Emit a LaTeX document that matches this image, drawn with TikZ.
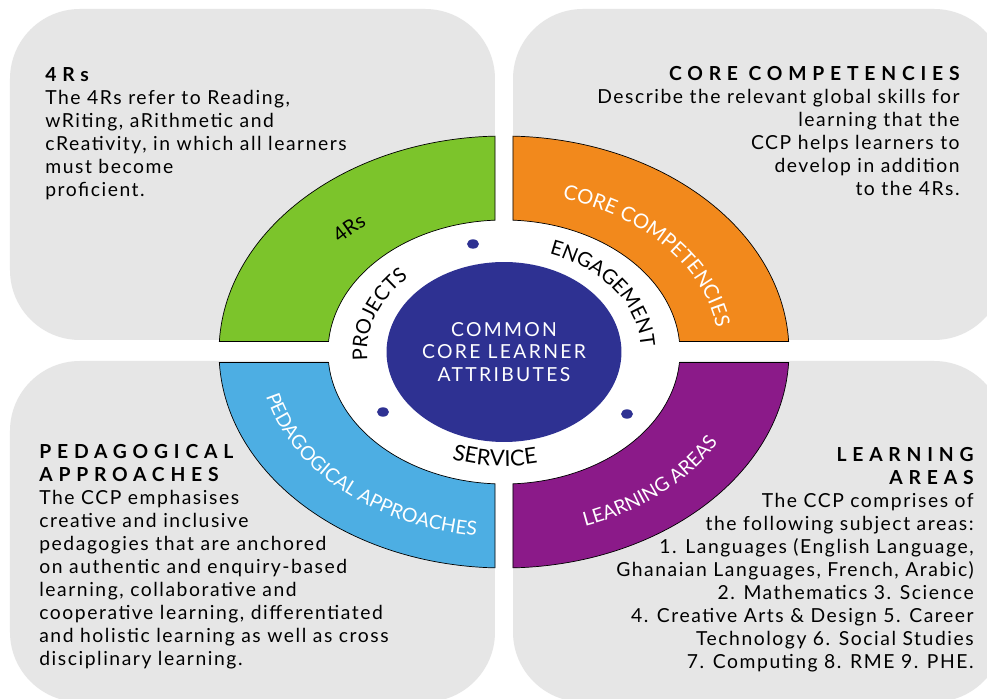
\documentclass[tikz,border=0pt]{standalone}
\usepackage{fontspec}
\setmainfont{Lato}
\newfontfamily\headfont[LetterSpace=30]{Lato}
\usepackage{tikz}
\usetikzlibrary{shapes.geometric}
\usetikzlibrary{decorations.text}

\definecolor{boxgray}{HTML}{E6E6E6}
\definecolor{rsgreen}{HTML}{7CC42B}
\definecolor{ccorange}{HTML}{F2891C}
\definecolor{lapurple}{HTML}{8B1A89}
\definecolor{pablue}{HTML}{4DAEE3}
\definecolor{coreblue}{HTML}{2E3192}

\begin{document}
\begin{tikzpicture}[x=0.02cm, y=0.02cm,
    box/.style={fill=boxgray, rounded corners=1.4cm},
    sector/.style={draw=black, line width=0.4pt},
    blocktext/.style={inner sep=0pt, font=\fontsize{11}{13.1}\selectfont\addfontfeatures{LetterSpace=8}},
    curvetext/.style={decorate, decoration={text along path, text align=center, text={#1}}}]

      \useasboundingbox (-504,-347) rectangle (483,352);
      \fill[white] (-504,-347) rectangle (483,352);

      % grey panels
      \fill[box] (-494,12) rectangle (-9,343);
      \fill[box] (9,12) rectangle (500,343);
      \fill[box] (-494,-350) rectangle (-9,-9);
      \fill[box] (9,-350) rectangle (500,-9);

      \fill[white] (0,0) ellipse[x radius=176, y radius=132];

      % coloured quarters
      \draw[sector, fill=ccorange] (2.79:285 and 216) arc[start angle=2.79, end angle=88.19, x radius=285, y radius=216]
        -- (87.07:176 and 132) arc[start angle=87.07, end angle=4.56, x radius=176, y radius=132] -- cycle;
      \draw[sector, fill=rsgreen] (91.81:285 and 216) arc[start angle=91.81, end angle=177.21, x radius=285, y radius=216]
        -- (175.44:176 and 132) arc[start angle=175.44, end angle=92.93, x radius=176, y radius=132] -- cycle;
      \draw[sector, fill=pablue] (182.79:285 and 216) arc[start angle=182.79, end angle=268.19, x radius=285, y radius=216]
        -- (267.07:176 and 132) arc[start angle=267.07, end angle=184.56, x radius=176, y radius=132] -- cycle;
      \draw[sector, fill=lapurple] (271.81:285 and 216) arc[start angle=271.81, end angle=357.21, x radius=285, y radius=216]
        -- (355.44:176 and 132) arc[start angle=355.44, end angle=272.93, x radius=176, y radius=132] -- cycle;

      \path[curvetext={|\fontsize{11.5}{13}\selectfont|4Rs}] (160:219 and 163) arc[start angle=160, end angle=110, x radius=219, y radius=163];
      \path[curvetext={|\fontsize{11.5}{13}\selectfont\color{white}|CORE COMPETENCIES}] (89:215 and 159) arc[start angle=89, end angle=-11, x radius=215, y radius=159];
      \path[curvetext={|\fontsize{11}{13}\selectfont\color{white}|PEDAGOGICAL APPROACHES}] (176:245 and 185) arc[start angle=176, end angle=277, x radius=245, y radius=185];
      \path[curvetext={|\fontsize{11}{13}\selectfont\color{white}|LEARNING AREAS}] (268:245 and 185) arc[start angle=268, end angle=358, x radius=245, y radius=185];

      % white ring
      \path[curvetext={|\fontsize{11.5}{14}\selectfont|PROJECTS}] (217:137 and 104) arc[start angle=217, end angle=107, x radius=137, y radius=104];
      \path[curvetext={|\fontsize{11.5}{14}\selectfont|ENGAGEMENT}] (89:137 and 104) arc[start angle=89, end angle=-21, x radius=137, y radius=104];
      \path[curvetext={|\fontsize{12.5}{14}\selectfont|SERVICE}] (221:150 and 114) arc[start angle=221, end angle=311, x radius=150, y radius=114];
      \foreach \p in {(-31,108),(-121,-60),(123,-62)}
        \fill[coreblue] \p ellipse[x radius=6, y radius=4.7];

      \node (core) [ellipse, fill=coreblue, minimum width=4.7cm, minimum height=3.6cm, inner sep=0pt, align=center,
        text=white, font=\fontsize{11}{12.6}\selectfont\addfontfeatures{LetterSpace=12}] at (0,0) {COMMON\\CORE LEARNER\\ATTRIBUTES};

      % panel texts
      \node (rstext) [blocktext, anchor=north west, align=left] at (-459,285)
        {{\headfont\bfseries 4Rs}\\The 4Rs refer to Reading,\\wRiting, aRithmetic and\\cReativity, in which all learners\\must become\\proficient.};
      \node (cctext) [blocktext, anchor=north east, align=right] at (456,286)
        {{\headfont\bfseries CORE COMPETENCIES}\\Describe the relevant global skills for\\learning that the\\CCP helps learners to\\develop in addition\\to the 4Rs.};
      \node (patext) [blocktext, anchor=north west, align=left] at (-465,-92)
        {{\headfont\bfseries PEDAGOGICAL}\\{\headfont\bfseries APPROACHES}\\The CCP emphasises\\creative and inclusive\\pedagogies that are anchored\\on authentic and enquiry-based\\learning, collaborative and\\cooperative learning, differentiated\\and holistic learning as well as cross\\disciplinary learning.};
      \node (latext) [blocktext, anchor=north east, align=right] at (470,-95)
        {{\headfont\bfseries LEARNING}\\{\headfont\bfseries AREAS}\\The CCP comprises of\\the following subject areas:\\1. Languages (English Language,\\Ghanaian Languages, French, Arabic)\\2. Mathematics 3. Science\\4. Creative Arts \& Design 5. Career\\Technology 6. Social Studies\\7. Computing 8. RME 9. PHE.};
\end{tikzpicture}
\end{document}
